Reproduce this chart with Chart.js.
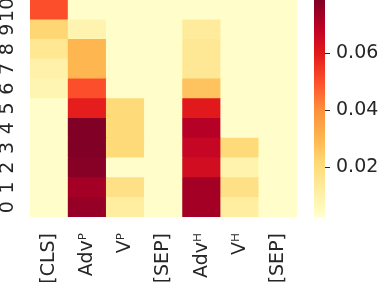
<!DOCTYPE html>
<html>
<head>
<meta charset="utf-8">
<script src="https://cdn.jsdelivr.net/npm/chart.js@4"></script>
<style>
  body { margin: 0; background: #fff; }
  #wrap { position: relative; width: 380px; height: 282px; }
  #heatBox { position: absolute; left: 0; top: 0; width: 300px; height: 282px; }
  #barBox { position: absolute; left: 300px; top: 0; width: 80px; height: 282px; }
</style>
</head>
<body>
<div id="wrap">
  <div id="heatBox"><canvas id="heat"></canvas></div>
  <div id="barBox"><canvas id="cbar"></canvas></div>
</div>
<script>
// labels
const colLabels = ['[CLS]', 'Adv\u1D3E', 'V\u1D3E', '[SEP]', 'Adv\u1D34', 'V\u1D34', '[SEP]'];
const rowLabels = ['0', '1', '2', '3', '4', '5', '6', '7', '8', '9', '10'];

// values per column, row 0 (bottom) -> row 10 (top)
const clsVals = [0.003, 0.003, 0.003, 0.003, 0.003, 0.003, 0.008, 0.010, 0.015, 0.022, 0.050];
const advPVals = [0.075, 0.073, 0.0775, 0.0786, 0.0786, 0.059, 0.050, 0.030, 0.030, 0.0086, 0.003];
const vPVals = [0.012, 0.018, 0.003, 0.021, 0.021, 0.021, 0.003, 0.003, 0.003, 0.003, 0.003];
const sepPVals = [0.003, 0.003, 0.003, 0.003, 0.003, 0.003, 0.003, 0.003, 0.003, 0.003, 0.003];
const advHVals = [0.073, 0.073, 0.064, 0.067, 0.070, 0.060, 0.027, 0.0144, 0.0144, 0.013, 0.003];
const vHVals = [0.012, 0.018, 0.009, 0.021, 0.003, 0.003, 0.003, 0.003, 0.003, 0.003, 0.003];
const sepHVals = [0.003, 0.003, 0.003, 0.003, 0.003, 0.003, 0.003, 0.003, 0.003, 0.003, 0.003];

const colorTicks = [0.02, 0.04, 0.06];
const vmin = 0.0025,
  vmax = 0.0786;

const heat = [clsVals, advPVals, vPVals, sepPVals, advHVals, vHVals, sepHVals];
const ylOrRd = ['#ffffcc', '#ffeda0', '#fed976', '#feb24c', '#fd8d3c', '#fc4e2a', '#e31a1c', '#bd0026', '#800026'];
const textColor = '#262626';
const font = { family: 'DejaVu Sans', size: 19 };

function hexRgb(h) {
  return [1, 3, 5].map((i) => parseInt(h.slice(i, i + 2), 16));
}

//color of a value on the colormap
function colorFor(v) {
  let t = (v - vmin) / (vmax - vmin);
  t = Math.max(0, Math.min(1, t));
  const pos = t * (ylOrRd.length - 1);
  const i = Math.min(Math.floor(pos), ylOrRd.length - 2);
  const f = pos - i;
  const a = hexRgb(ylOrRd[i]),
    b = hexRgb(ylOrRd[i + 1]);
  const c = a.map((x, k) => Math.round(x + (b[k] - x) * f));
  return `rgb(${c[0]}, ${c[1]}, ${c[2]})`;
}

//no extra room for labels that stick out
function noPad(scale) {
  scale.paddingLeft = 0;
  scale.paddingRight = 0;
  scale.paddingTop = 0;
  scale.paddingBottom = 0;
}

// one stacked dataset per row
const datasets = rowLabels.map((row, i) => ({
  label: row,
  data: colLabels.map(() => 1),
  backgroundColor: heat.map((col) => colorFor(col[i])),
  borderWidth: 0,
  barPercentage: 1,
  categoryPercentage: 1,
}));

new Chart(document.getElementById('heat'), {
  type: 'bar',
  data: { labels: colLabels, datasets: datasets },
  options: {
    responsive: true,
    maintainAspectRatio: false,
    animation: false,
    layout: { padding: { left: 0, right: 3, top: 0, bottom: 0 } },
    plugins: { legend: { display: false }, tooltip: { enabled: false } },
    scales: {
      x: {
        stacked: true,
        grid: { display: false, drawTicks: false },
        border: { display: false },
        ticks: {
          font: font,
          color: textColor,
          minRotation: 90,
          maxRotation: 90,
          padding: 16,
          autoSkip: false,
        },
        afterFit: (scale) => {
          scale.height = 65;
          noPad(scale);
        },
      },
      y: {
        stacked: true,
        min: 0,
        max: rowLabels.length,
        grid: { display: false, drawTicks: false },
        border: { display: false },
        afterBuildTicks: (scale) => {
          scale.ticks = rowLabels.map((r, i) => ({ value: i + 0.5 }));
        },
        ticks: {
          font: font,
          color: textColor,
          minRotation: 90,
          maxRotation: 90,
          crossAlign: 'center',
          padding: 10,
          autoSkip: false,
          callback: (value, index) => rowLabels[index],
        },
        afterFit: (scale) => {
          scale.width = 30;
          noPad(scale);
        },
      },
    },
  },
});

//colorbar
new Chart(document.getElementById('cbar'), {
  type: 'bar',
  data: {
    labels: ['scale'],
    datasets: [
      {
        data: [[vmin, vmax]],
        borderWidth: 0,
        barPercentage: 1,
        categoryPercentage: 1,
        backgroundColor: (c) => {
          const { ctx, chartArea } = c.chart;
          if (!chartArea) return ylOrRd[0];
          const g = ctx.createLinearGradient(0, chartArea.bottom, 0, chartArea.top);
          ylOrRd.forEach((col, i) => g.addColorStop(i / (ylOrRd.length - 1), col));
          return g;
        },
      },
    ],
  },
  options: {
    responsive: true,
    maintainAspectRatio: false,
    animation: false,
    layout: { padding: { left: 14, right: 0, top: 0, bottom: 65 } },
    plugins: { legend: { display: false }, tooltip: { enabled: false } },
    scales: {
      x: { display: false },
      y: {
        position: 'right',
        min: vmin,
        max: vmax,
        grid: { drawOnChartArea: false, tickLength: 5, tickColor: textColor, tickWidth: 1 },
        border: { display: false },
        afterBuildTicks: (scale) => {
          scale.ticks = colorTicks.map((v) => ({ value: v }));
        },
        ticks: {
          font: font,
          color: textColor,
          padding: 6,
          callback: (v) => v.toFixed(2),
        },
        afterFit: (scale) => {
          scale.width = 55;
          noPad(scale);
        },
      },
    },
  },
});
</script>
</body>
</html>
